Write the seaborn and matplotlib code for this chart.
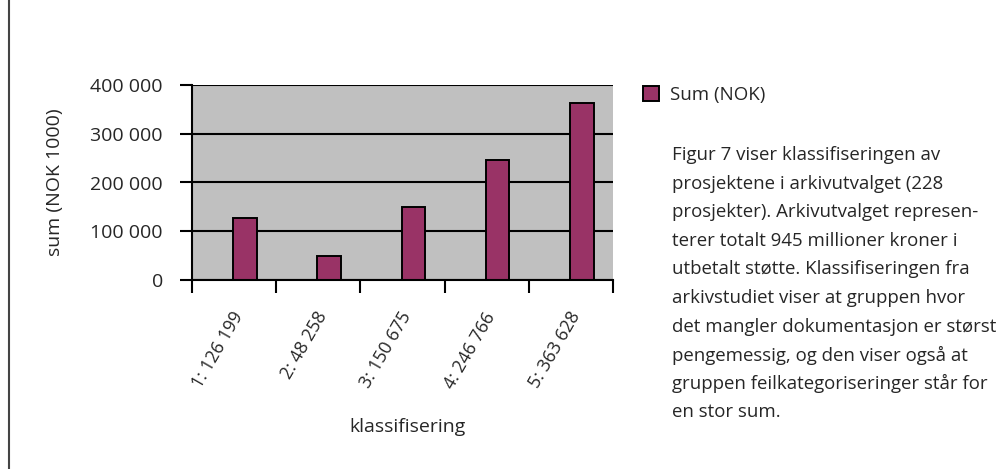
import numpy as np
import matplotlib
matplotlib.use("Agg")
import matplotlib.pyplot as plt
import matplotlib.transforms as mtransforms
import seaborn as sns
from matplotlib.lines import Line2D
from matplotlib.ticker import FuncFormatter

# data
klasser = ["1: 126 199", "2: 48 258", "3: 150 675", "4: 246 766", "5: 363 628"]
summer = [126199, 48258, 150675, 246766, 363628]
serie_navn = "Sum (NOK)"

tekst_linjer = [
    "Figur 7 viser klassifiseringen av",
    "prosjektene i arkivutvalget (228",
    "prosjekter). Arkivutvalget represen-",
    "terer totalt 945 millioner kroner i",
    "utbetalt støtte. Klassifiseringen fra",
    "arkivstudiet viser at gruppen hvor",
    "det mangler dokumentasjon er størst",
    "pengemessig, og den viser også at",
    "gruppen feilkategoriseringer står for",
    "en stor sum.",
]

sns.set_style("white")
plt.rcParams["font.family"] = ["Open Sans", "DejaVu Sans"]

fig = plt.figure(figsize=(10.06, 4.69), dpi=100)
ax = fig.add_axes([192 / 1006, 1 - 280 / 469, 421 / 1006, 195 / 469])
ax.set_facecolor("#c0c0c0")

ax.yaxis.grid(True, color="black", linewidth=1.5)
ax.set_axisbelow(True)

sns.barplot(x=klasser, y=summer, color="#993366", edgecolor="black",
            linewidth=1.4, width=0.28, saturation=1, ax=ax, label=serie_navn)

ax.set_xlim(-0.63, 4.37)
ax.set_ylim(0, 400000)
ax.set_yticks(np.arange(0, 400001, 100000))
ax.yaxis.set_major_formatter(FuncFormatter(lambda v, p: f"{int(v):,}".replace(",", " ")))

# category boundaries get the tick marks
ax.set_xticks(np.arange(6) - 0.63, minor=True)
ax.tick_params(axis="x", which="major", length=0, pad=24, labelsize=12.8)
ax.tick_params(axis="x", which="minor", length=9, width=1.5, color="black", bottom=True)
ax.tick_params(axis="y", length=9, width=1.5, color="black", left=True, pad=12, labelsize=14)
shift = mtransforms.ScaledTranslation(-6 / 100, 0, fig.dpi_scale_trans)
for lab in ax.get_xticklabels():
    lab.set_rotation(60)
    lab.set_ha("right")
    lab.set_va("center")
    lab.set_rotation_mode("anchor")
    lab.set_transform(lab.get_transform() + shift)

for side in ["top", "right"]:
    ax.spines[side].set_visible(False)
for side in ["left", "bottom"]:
    ax.spines[side].set_color("black")
    ax.spines[side].set_linewidth(1.5)

ax.set_ylabel("sum (NOK 1000)", fontsize=14)
ax.yaxis.set_label_coords(-0.305, 0.5)
ax.set_xlabel("klassifisering", fontsize=14)
ax.xaxis.set_label_coords(0.513, -0.71)

ax.legend(loc="center left", bbox_to_anchor=(643 / 1006, 1 - 95 / 469),
          bbox_transform=fig.transFigure, frameon=False, fontsize=13.5,
          borderpad=0, borderaxespad=0,
          handlelength=0.85, handleheight=0.8, handletextpad=0.6)

for i, linje in enumerate(tekst_linjer):
    fig.text(672 / 1006, 1 - (155 + i * 28.6) / 469, linje, fontsize=13.4,
             va="center", ha="left")

fig.add_artist(Line2D([0.0085, 0.0085], [0, 1], transform=fig.transFigure,
                      color="#444444", linewidth=1.5))

fig.savefig("out.png", dpi=100)
